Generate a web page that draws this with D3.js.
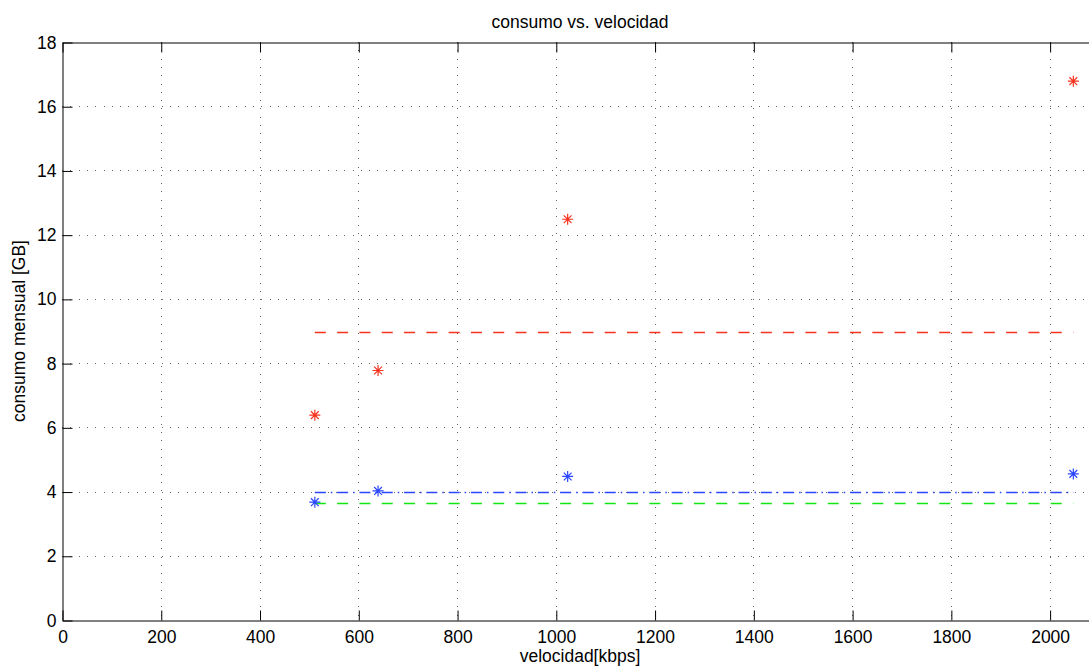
<!DOCTYPE html>
<html>
<head>
<meta charset="utf-8">
<script src="https://cdn.jsdelivr.net/npm/d3@7"></script>
<style>
  body { margin: 0; background: #fff; }
  svg { display: block; font-family: "Liberation Sans", Arial, Helvetica, sans-serif; }
</style>
</head>
<body>
<div id="chart"></div>
<script>
// measured series (velocidad kbps -> consumo GB)
const velocidades = [512, 640, 1024, 2048];
const consumoRojo = [6.38, 7.77, 12.48, 16.78];
const consumoAzul = [3.67, 4.02, 4.47, 4.55];

// horizontal reference lines
const lineaRojaY = 8.97;
const lineaAzulY = 4.0;
const lineaVerdeY = 3.65;
const lineaDesde = 512, lineaHasta = 2048;

const xTicks = [0, 200, 400, 600, 800, 1000, 1200, 1400, 1600, 1800, 2000];
const yTicks = [0, 2, 4, 6, 8, 10, 12, 14, 16, 18];

const width = 1089, height = 668;
const plotLeft = 62, plotTop = 42, plotRight = 1099, plotBottom = 620;

const svg = d3.select("#chart")
    .append("svg")
    .attr("width", width)
    .attr("height", height);

const x = d3.scaleLinear().domain([0, 2100]).range([plotLeft, plotRight]);
const y = d3.scaleLinear().domain([0, 18]).range([plotBottom, plotTop]);

const rojo = "#f5331f",
    azul = "#2a46ff",
    verde = "#12e612";

// grid (dotted)
const grid = svg.append("g")
    .attr("stroke", "#666")
    .attr("stroke-width", 1)
    .attr("stroke-dasharray", "1,7.3")
    .attr("shape-rendering", "crispEdges");

grid.selectAll(".gx")
    .data(xTicks.filter(d => d > 0))
    .enter()
    .append("line")
    .attr("x1", d => Math.round(x(d)) + 0.5)
    .attr("x2", d => Math.round(x(d)) + 0.5)
    .attr("y1", plotTop)
    .attr("y2", plotBottom);

grid.selectAll(".gy")
    .data(yTicks.filter(d => d > 0 && d < 18))
    .enter()
    .append("line")
    .attr("y1", d => Math.round(y(d)) + 0.5)
    .attr("y2", d => Math.round(y(d)) + 0.5)
    .attr("x1", plotLeft)
    .attr("x2", plotRight);

// axes
const fmt = d3.format("d");
const xAxisB = d3.axisBottom(x).tickValues(xTicks).tickFormat(fmt).tickSizeInner(-10).tickSizeOuter(0).tickPadding(10);
const xAxisT = d3.axisTop(x).tickValues(xTicks).tickSizeInner(-10).tickSizeOuter(0).tickFormat("");
const yAxisL = d3.axisLeft(y).tickValues(yTicks).tickFormat(fmt).tickSizeInner(-10).tickSizeOuter(0).tickPadding(6);

function styleAxis(g) {
    g.select(".domain").attr("stroke", "#000");
    g.selectAll(".tick line").attr("stroke", "#000");
    g.selectAll("text")
        .attr("fill", "#000")
        .attr("font-size", "17.5px")
        .attr("font-family", "\"Liberation Sans\", Arial, Helvetica, sans-serif");
}

svg.append("g")
    .attr("transform", "translate(0.5," + (plotBottom + 0.5) + ")")
    .call(xAxisB)
    .call(styleAxis);

svg.append("g")
    .attr("transform", "translate(0.5," + (plotTop + 0.5) + ")")
    .call(xAxisT)
    .call(styleAxis);

svg.append("g")
    .attr("transform", "translate(" + (plotLeft + 0.5) + ",0.5)")
    .call(yAxisL)
    .call(styleAxis);

// reference lines
const lineas = [
    {v: lineaRojaY, color: rojo, dash: "11,11.3"},
    {v: lineaAzulY, color: azul, dash: "11,5,1.5,4.8"},
    {v: lineaVerdeY, color: verde, dash: "11,11.3"}
];

svg.append("g")
    .selectAll("line")
    .data(lineas)
    .enter()
    .append("line")
    .attr("x1", x(lineaDesde))
    .attr("x2", x(lineaHasta))
    .attr("y1", d => Math.round(y(d.v)) + 0.5)
    .attr("y2", d => Math.round(y(d.v)) + 0.5)
    .attr("stroke", d => d.color)
    .attr("stroke-width", 1.5)
    .attr("stroke-dasharray", d => d.dash);

// asterisk markers
const r = 5.5, dg = 3.9;
const star = `M${-r},0L${r},0M0,${-r}L0,${r}M${-dg},${-dg}L${dg},${dg}M${-dg},${dg}L${dg},${-dg}`;

function markers(vals, color) {
    svg.append("g")
        .selectAll("path")
        .data(velocidades.map((v, i) => [v, vals[i]]))
        .enter()
        .append("path")
        .attr("d", star)
        .attr("transform", d => "translate(" + x(d[0]) + "," + y(d[1]) + ")")
        .attr("fill", "none")
        .attr("stroke", color)
        .attr("stroke-width", 1.2);
}
markers(consumoRojo, rojo);
markers(consumoAzul, azul);

// labels
svg.append("text")
    .attr("x", 580)
    .attr("y", 28)
    .attr("text-anchor", "middle")
    .attr("font-size", "17.5px")
    .text("consumo vs. velocidad");

svg.append("text")
    .attr("x", 580)
    .attr("y", 662)
    .attr("text-anchor", "middle")
    .attr("font-size", "17.5px")
    .text("velocidad[kbps]");

svg.append("text")
    .attr("transform", "translate(25," + ((plotTop + plotBottom) / 2) + ") rotate(-90)")
    .attr("text-anchor", "middle")
    .attr("font-size", "17.5px")
    .text("consumo mensual [GB]");
</script>
</body>
</html>
